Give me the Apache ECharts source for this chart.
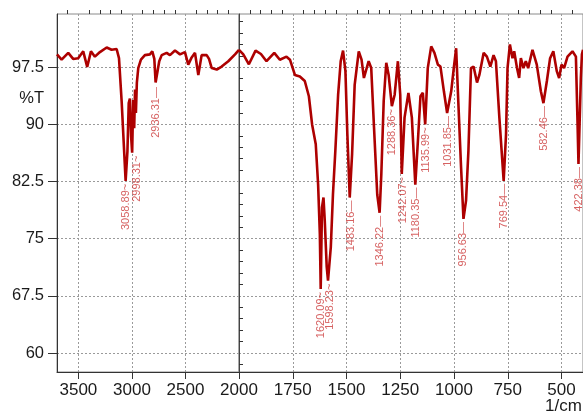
<!DOCTYPE html>
<html>
<head>
<meta charset="utf-8">
<script src="https://cdn.jsdelivr.net/npm/echarts@6/dist/echarts.min.js"></script>
<style>
html,body{margin:0;padding:0;background:#fff;}
#chart{width:583px;height:414px;}
</style>
</head>
<body>
<div id="chart"></div>
<script>
// ---- Spectrum, left panel (3700 - 2000 1/cm, compressed scale) ----
var leftWave = [3700,3657,3595,3549,3502,3455,3418,3383,3346,3299,3236,3190,3143,3121,3096,3059,3042,3030,3019,3008,2998,2988,2979,2971,2963,2954,2941,2916,2879,2832,2810,2791,2779,2765,2745,2722,2676,2645,2598,2551,2505,2474,2442,2411,2380,2349,2302,2280,2255,2208,2162,2100,2037,2000];
var leftT    = [99.2,98.5,99.4,98.6,98.7,99.6,97.55,99.6,98.9,99.5,100.1,99.8,99.9,98.7,93.0,82.6,86.5,92.8,93.4,88.5,86.3,93.2,89.5,94.6,91.5,95.5,97.4,98.5,99.1,99.2,99.6,98.6,95.5,95.3,98.3,99.1,99.4,99.1,99.7,99.2,99.5,97.85,98.8,99.4,96.5,99.1,99.1,98.6,97.4,97.2,97.6,98.3,99.2,99.8];

// ---- Spectrum, right panel (2000 - 400 1/cm) ----
var rightWave = [2000,1980,1954,1923,1898,1872,1836,1810,1779,1763,1740,1717,1694,1675,1660,1643,1632,1624,1620,1614,1607,1601,1592,1586,1573,1563,1552,1539,1527,1516,1505,1496,1485,1474,1462,1443,1430,1419,1397,1385,1372,1357,1346,1338,1327,1315,1304,1289,1276,1261,1250,1243,1230,1212,1196,1180,1168,1156,1145,1134,1122,1106,1091,1075,1063,1047,1032,1013,1001,990,980,967,956,944,933,921,909,893,882,862,847,831,816,805,789,769,758,751,740,728,720,707,697,689,677,666,655,635,615,596,584,568,553,538,522,511,500,488,472,449,433,426,421,410,405,400];
var rightT    = [99.8,99.2,97.9,99.7,99.25,98.3,99.4,98.5,98.9,98.5,96.5,96.3,95.7,93.7,90.0,87.4,82.1,75.6,68.4,79.1,80.4,77.3,71.3,69.5,73.9,80.8,86.5,93.9,98.3,99.7,97.0,88.7,80.4,86.1,95.2,99.6,98.5,96.1,98.3,97.4,89.6,80.8,78.4,83.5,93.05,98.1,96.5,92.4,93.9,98.3,93.9,83.5,90.9,94.15,90.9,82.1,87.8,93.7,94.15,90.0,97.4,100.25,99.4,97.85,97.6,94.35,91.5,94.35,97.4,100.0,93.0,84.3,77.6,80.0,86.5,97.4,97.6,95.5,96.5,99.4,98.9,97.6,99.1,98.3,90.9,82.6,88.7,97.4,100.5,98.7,99.6,97.4,96.1,98.7,97.4,98.3,97.4,99.8,97.85,94.35,92.8,95.7,98.7,99.6,97.0,96.1,97.85,97.4,98.9,99.6,98.9,90.9,84.8,96.1,99.2,99.8];

// ---- Peak annotations ----
var leftPeakWave = [3059, 2950, 2772];
var leftPeakT    = [82.6, 86.3, 95.3];
var leftPeakText = ['3058.89~', '2998.31~', '2936.31\u2014'];

var rightPeakWave = [1620, 1575, 1480, 1346, 1290, 1238, 1178, 1131, 1028, 956, 769, 581, 420];
var rightPeakT    = [68.4, 69.5, 80.4, 78.4, 92.4, 83.5, 82.1, 90.0, 91.5, 77.6, 82.6, 92.8, 84.8];
var rightPeakText = ['1620.09~','1598.23~','1483.16\u2014','1346.22\u2014','1288.36~','1242.07~','1180.35\u2014','1135.99~','1031.85\u2014','956.63\u2014','769.54\u2014','582.46\u2014','422.38\u2014'];

// ---- Axis ticks / labels ----
var leftMajorTicks  = [2000, 2500, 3000, 3500];
var leftTickLabels  = [2000, 2500, 3000, 3500];
var leftMinorTicks  = [2100,2200,2300,2400,2600,2700,2800,2900,3100,3200,3300,3400,3600];
var rightMajorTicks = [500, 750, 1000, 1250, 1500, 1750, 2000];
var rightTickLabels = [500, 750, 1000, 1250, 1500, 1750];
var rightMinorTicks = [450,550,600,650,700,800,850,900,950,1050,1100,1150,1200,1300,1350,1400,1450,1550,1600,1650,1700,1800,1850,1900,1950];
var yMajorTicks = [60, 67.5, 75, 82.5, 90, 97.5];
var yTickLabels = [60, 67.5, 75, 82.5, 90, 97.5];
var yMinorTicks = [58.5,61.5,63,64.5,66,69,70.5,72,73.5,76.5,78,79.5,81,84,85.5,87,88.5,91.5,93,94.5,96,99,100.5,102,103.5];

var FONT = 'Liberation Sans, Arial, sans-serif';
var LINE = '#ad0000';
var LBL = '#cc3a3a';
var GRIDLINE = {show: true, lineStyle: {color: '#9a9a9a', type: [2, 2], width: 1}};
function plain(v) { return String(v); }

function zip(a, b) { return a.map(function (v, i) { return [v, b[i]]; }); }

var chart = echarts.init(document.getElementById('chart'), null, {renderer: 'canvas'});

function peakSeries(xi, yi, waves, ts, texts) {
  return {
    type: 'scatter', xAxisIndex: xi, yAxisIndex: yi,
    data: zip(waves, ts), symbolSize: 0, silent: true, z: 5,
    label: {
      show: true, position: 'bottom', distance: 3, rotate: 90,
      align: 'right', verticalAlign: 'middle',
      fontSize: 11, fontFamily: FONT, color: LBL,
      formatter: function (p) { return texts[p.dataIndex]; }
    }
  };
}

var option = {
  animation: false,
  backgroundColor: '#ffffff',
  textStyle: {fontFamily: FONT},
  grid: [
    {left: 57, top: 14, width: 182, height: 358, show: true, borderColor: '#8a8a8a', borderWidth: 1, backgroundColor: 'transparent'},
    {left: 239, top: 14, width: 346, height: 358, show: true, borderColor: '#8a8a8a', borderWidth: 1, backgroundColor: 'transparent'}
  ],
  xAxis: [
    {gridIndex: 0, type: 'value', min: 2000, max: 3700, inverse: true,
     axisLine: {show: true, lineStyle: {color: '#333', width: 1}},
     axisTick: {show: true, length: 7, customValues: leftMajorTicks, lineStyle: {color: '#333'}},
     axisLabel: {customValues: leftTickLabels, formatter: plain, fontSize: 17, color: '#1a1a1a', margin: 10, fontFamily: FONT},
     splitLine: Object.assign({showMinLine: false}, GRIDLINE)},
    {gridIndex: 1, type: 'value', min: 400, max: 2000, inverse: true,
     axisLine: {show: true, lineStyle: {color: '#333', width: 1}},
     axisTick: {show: true, length: 7, customValues: rightMajorTicks, lineStyle: {color: '#333'}},
     axisLabel: {customValues: rightTickLabels, formatter: plain, fontSize: 17, color: '#1a1a1a', margin: 10, fontFamily: FONT},
     splitLine: Object.assign({showMaxLine: false}, GRIDLINE)},
    {gridIndex: 0, type: 'value', min: 2000, max: 3700, inverse: true,
     axisLine: {show: false}, axisLabel: {show: false}, splitLine: {show: false},
     axisTick: {show: true, length: 4, customValues: leftMinorTicks, lineStyle: {color: '#333'}}},
    {gridIndex: 1, type: 'value', min: 400, max: 2000, inverse: true,
     axisLine: {show: false}, axisLabel: {show: false}, splitLine: {show: false},
     axisTick: {show: true, length: 4, customValues: rightMinorTicks, lineStyle: {color: '#333'}}}
  ],
  yAxis: [
    {gridIndex: 0, type: 'value', min: 57.5, max: 104.5,
     axisLine: {show: true, lineStyle: {color: '#333', width: 1}},
     axisTick: {show: true, length: 9, customValues: yMajorTicks, lineStyle: {color: '#333'}},
     axisLabel: {customValues: yTickLabels, formatter: plain, fontSize: 16.5, color: '#1a1a1a', margin: 13, fontFamily: FONT},
     splitLine: GRIDLINE},
    {gridIndex: 1, type: 'value', min: 57.5, max: 104.5,
     axisLine: {show: true, lineStyle: {color: '#444', width: 1}},
     axisTick: {show: false, customValues: yMajorTicks},
     axisLabel: {show: false},
     splitLine: GRIDLINE},
    {gridIndex: 0, type: 'value', min: 57.5, max: 104.5,
     axisLine: {show: false}, axisLabel: {show: false}, splitLine: {show: false},
     axisTick: {show: true, length: 4, customValues: yMinorTicks, lineStyle: {color: '#333'}}}
  ],
  graphic: [
    {type: 'text', x: 44, y: 98, style: {text: '%T', fontSize: 16.5, fontFamily: FONT, fill: '#1a1a1a', align: 'right', verticalAlign: 'middle'}},
    {type: 'text', x: 545, y: 406, style: {text: '1/cm', fontSize: 17, fontFamily: FONT, fill: '#1a1a1a', align: 'left', verticalAlign: 'middle'}}
  ],
  series: [
    {type: 'line', xAxisIndex: 0, yAxisIndex: 0, data: zip(leftWave, leftT), showSymbol: false, symbol: 'none',
     lineStyle: {color: LINE, width: 2.6}, silent: true, z: 3},
    {type: 'line', xAxisIndex: 1, yAxisIndex: 1, data: zip(rightWave, rightT), showSymbol: false, symbol: 'none',
     lineStyle: {color: LINE, width: 2.6}, silent: true, z: 3},
    peakSeries(0, 0, leftPeakWave, leftPeakT, leftPeakText),
    peakSeries(1, 1, rightPeakWave, rightPeakT, rightPeakText)
  ]
};
chart.setOption(option);
</script>
</body>
</html>
